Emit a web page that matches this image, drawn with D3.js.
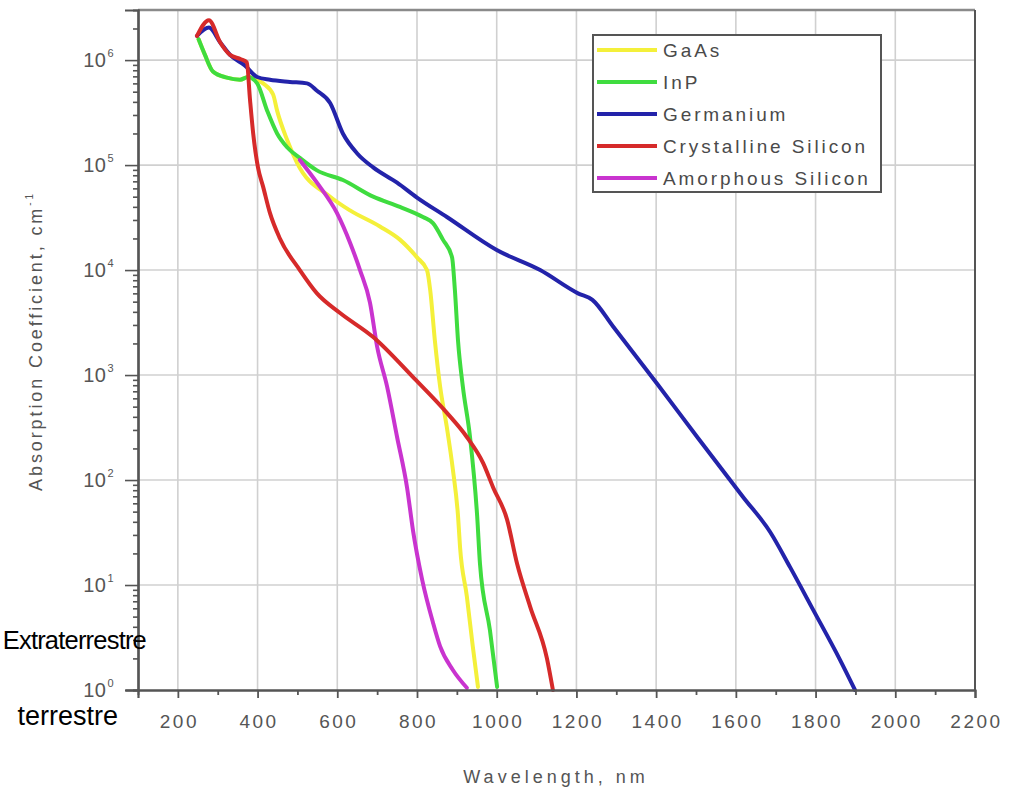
<!DOCTYPE html>
<html>
<head>
<meta charset="utf-8">
<script src="https://cdn.jsdelivr.net/npm/d3@7"></script>
<style>
  html, body { margin: 0; padding: 0; background: #fff; }
  svg { display: block; }
  text { font-family: "Liberation Sans", Arial, sans-serif; }
</style>
</head>
<body>
<svg id="chart" width="1024" height="793"></svg>
<script>
// ---- Data (wavelength in nm, absorption coefficient in cm^-1) ----
const seriesNames = ["GaAs", "InP", "Germanium", "Crystalline Silicon", "Amorphous Silicon"];
const seriesColors = ["#f4f03a", "#3fdc3f", "#2323aa", "#d62a2a", "#c934cf"];

const gaasNm  = [252, 268, 288, 323, 356, 376, 414, 439, 449, 474, 499, 582, 632, 707, 757, 800, 825, 833, 845, 858, 875, 890, 903, 908, 925, 940, 953];
const gaasVal = [1.58e6, 1.12e6, 7.8e5, 6.8e5, 6.5e5, 6.9e5, 6.0e5, 4.7e5, 3.3e5, 1.74e5, 1.05e5, 5.0e4, 3.7e4, 2.6e4, 1.95e4, 1.32e4, 1.0e4, 6.5e3, 2.1e3, 776, 316, 126, 45, 23, 7.8, 2.6, 1.07];

const inpNm  = [252, 268, 288, 323, 356, 376, 399, 424, 449, 474, 506, 549, 614, 690, 757, 815, 840, 865, 888, 895, 903, 915, 933, 951, 958, 983, 1001];
const inpVal = [1.58e6, 1.12e6, 7.8e5, 6.8e5, 6.5e5, 6.9e5, 6.0e5, 3.3e5, 2.0e5, 1.48e5, 1.17e5, 8.9e4, 7.2e4, 5.0e4, 4.0e4, 3.2e4, 2.8e4, 1.95e4, 1.32e4, 6.5e3, 2.1e3, 776, 257, 45, 16, 3.7, 1.07];

const geNm  = [248, 278, 306, 331, 368, 399, 431, 481, 524, 549, 582, 614, 650, 690, 750, 800, 875, 1000, 1109, 1204, 1240, 1292, 1402, 1503, 1618, 1686, 1736, 1794, 1861, 1899];
const geVal = [1.7e6, 2.04e6, 1.48e6, 1.12e6, 8.9e5, 6.9e5, 6.5e5, 6.2e5, 6.0e5, 5.1e5, 3.9e5, 2.0e5, 1.29e5, 9.5e4, 6.8e4, 4.9e4, 3.2e4, 1.55e4, 1.0e4, 6.0e3, 5.2e3, 2.9e3, 832, 257, 69, 32, 14.8, 5.8, 1.95, 1.0];

const csiNm  = [248, 278, 306, 331, 358, 373, 381, 389, 401, 414, 431, 456, 506, 549, 607, 690, 790, 875, 925, 966, 991, 1026, 1051, 1084, 1126, 1141];
const csiVal = [1.7e6, 2.4e6, 1.48e6, 1.12e6, 1.02e6, 9.5e5, 4.2e5, 2.0e5, 9.5e4, 6.2e4, 3.5e4, 2.0e4, 1.0e4, 6.0e3, 3.9e3, 2.3e3, 955, 436, 257, 145, 85, 42, 16, 6.2, 2.0, 1.0];

const asiNm  = [506, 549, 599, 632, 657, 682, 700, 725, 750, 775, 790, 813, 840, 858, 890, 925];
const asiVal = [1.12e5, 6.8e4, 3.5e4, 1.82e4, 1.0e4, 4.9e3, 1.86e3, 776, 257, 85, 33, 11.2, 4.4, 2.6, 1.55, 1.05];

const xMajorTicks = [200, 400, 600, 800, 1000, 1200, 1400, 1600, 1800, 2000, 2200];
const xMinorTicks = [100, 300, 500, 700, 900, 1100, 1300, 1500, 1700, 1900, 2100];
const yDecadeExps = [0, 1, 2, 3, 4, 5, 6];
const yMinorMult  = [2, 3, 4, 5, 6, 7, 8, 9];

const xTitle = "Wavelength, nm";
const yTitle = "Absorption Coefficient, cm";
const overlayTexts = ["Extraterrestre", "terrestre"];

// ---- Layout ----
const L = 138, R = 975, T = 10, B = 690;
const svg = d3.select("#chart");

const x = d3.scaleLinear().domain([100, 2200]).range([L, R]);
const y = d3.scaleLog().domain([1, 3e6]).range([B, T]);

const axisColor = "#555";
const gridColor = "#d0d0d0";
const textColor = "#555";

// Grid
svg.append("g").selectAll("line.vg")
  .data(xMajorTicks.filter(d => d < 2200))
  .join("line")
  .attr("x1", d => x(d)).attr("x2", d => x(d))
  .attr("y1", T).attr("y2", B)
  .attr("stroke", gridColor).attr("stroke-width", 1.6);

svg.append("g").selectAll("line.hg")
  .data(yDecadeExps.filter(e => e > 0))
  .join("line")
  .attr("x1", L).attr("x2", R)
  .attr("y1", e => y(Math.pow(10, e))).attr("y2", e => y(Math.pow(10, e)))
  .attr("stroke", gridColor).attr("stroke-width", 1.6);

// Series
const allSeries = [
  {name: seriesNames[0], color: seriesColors[0], nm: gaasNm, val: gaasVal},
  {name: seriesNames[1], color: seriesColors[1], nm: inpNm, val: inpVal},
  {name: seriesNames[2], color: seriesColors[2], nm: geNm, val: geVal},
  {name: seriesNames[4], color: seriesColors[4], nm: asiNm, val: asiVal},
  {name: seriesNames[3], color: seriesColors[3], nm: csiNm, val: csiVal}
];

const line = d3.line()
  .x(d => x(d[0])).y(d => y(d[1]))
  .curve(d3.curveMonotoneX);

svg.append("g").selectAll("path")
  .data(allSeries)
  .join("path")
  .attr("d", s => line(s.nm.map((n, i) => [n, s.val[i]])))
  .attr("fill", "none")
  .attr("stroke", s => s.color)
  .attr("stroke-width", 4)
  .attr("stroke-linejoin", "round")
  .attr("stroke-linecap", "round");

// Frame
svg.append("line").attr("x1", L).attr("x2", R).attr("y1", T).attr("y2", T)
  .attr("stroke", "#8a8a8a").attr("stroke-width", 2.5);
svg.append("line").attr("x1", R).attr("x2", R).attr("y1", T).attr("y2", B)
  .attr("stroke", axisColor).attr("stroke-width", 2);

// X axis
const xAxisG = svg.append("g").attr("transform", `translate(0,${B})`)
  .call(d3.axisBottom(x).tickValues(xMajorTicks).tickSize(8).tickFormat(""));
const xMinorG = svg.append("g").attr("transform", `translate(0,${B})`)
  .call(d3.axisBottom(x).tickValues(xMinorTicks).tickSize(5).tickFormat(""));
[xAxisG, xMinorG].forEach(g => {
  g.select(".domain").attr("stroke", axisColor).attr("stroke-width", 2.2);
  g.selectAll(".tick line").attr("stroke", axisColor).attr("stroke-width", 1.8);
});
xMinorG.select(".domain").attr("d", `M${L - 12},0.5H${R}`);

svg.append("g").selectAll("text")
  .data(xMajorTicks)
  .join("text")
  .attr("x", d => x(d) + 1.5)
  .attr("y", B + 38)
  .attr("text-anchor", "middle")
  .attr("font-size", 19)
  .attr("letter-spacing", "2.5px")
  .attr("fill", textColor)
  .text(d => d);

// Y axis
const yMinorVals = [];
yDecadeExps.forEach(e => yMinorMult.forEach(m => {
  const v = m * Math.pow(10, e);
  if (v < 3e6) yMinorVals.push(v);
}));
const yAxisG = svg.append("g").attr("transform", `translate(${L},0)`)
  .call(d3.axisLeft(y).tickValues(yDecadeExps.map(e => Math.pow(10, e))).tickSize(13).tickFormat(""));
const yMinorG = svg.append("g").attr("transform", `translate(${L},0)`)
  .call(d3.axisLeft(y).tickValues(yMinorVals).tickSize(5).tickFormat(""));
[yAxisG, yMinorG].forEach(g => {
  g.select(".domain").attr("stroke", axisColor).attr("stroke-width", 2.2);
  g.selectAll(".tick line").attr("stroke", axisColor).attr("stroke-width", 1.6);
});

const yLab = svg.append("g").selectAll("text")
  .data(yDecadeExps)
  .join("text")
  .attr("x", 114)
  .attr("y", e => y(Math.pow(10, e)) + 7)
  .attr("text-anchor", "end")
  .attr("font-size", 20)
  .attr("letter-spacing", "0.5px")
  .attr("fill", textColor);
yLab.append("tspan").text("10");
yLab.append("tspan")
  .attr("font-size", 11)
  .attr("dy", -10)
  .attr("dx", 1)
  .text(e => e);

// Axis titles
svg.append("text")
  .attr("x", 556).attr("y", 783)
  .attr("text-anchor", "middle")
  .attr("font-size", 18)
  .attr("letter-spacing", "4px")
  .attr("fill", textColor)
  .text(xTitle);

const yt = svg.append("text")
  .attr("transform", "translate(42,341) rotate(-90)")
  .attr("text-anchor", "middle")
  .attr("font-size", 18)
  .attr("letter-spacing", "2.9px")
  .attr("fill", textColor);
yt.append("tspan").text(yTitle);
yt.append("tspan").attr("font-size", 10).attr("dy", -9).text("-1");

// Legend
const legend = svg.append("g");
legend.append("rect")
  .attr("x", 593).attr("y", 35).attr("width", 288).attr("height", 157)
  .attr("fill", "#fff").attr("stroke", "#555").attr("stroke-width", 2);
const rowY = d3.scalePoint().domain(seriesNames).range([50, 178]);
const items = legend.selectAll("g.item")
  .data(seriesNames.map((n, i) => ({name: n, color: seriesColors[i]})))
  .join("g");
items.append("line")
  .attr("x1", 597).attr("x2", 657)
  .attr("y1", d => rowY(d.name)).attr("y2", d => rowY(d.name))
  .attr("stroke", d => d.color).attr("stroke-width", 4);
items.append("text")
  .attr("x", 663)
  .attr("y", d => rowY(d.name) + 7)
  .attr("font-size", 19)
  .attr("letter-spacing", "2.9px")
  .attr("fill", "#4a4a4a")
  .text(d => d.name);

// Overlay texts
svg.append("text")
  .attr("x", 146).attr("y", 649)
  .attr("text-anchor", "end")
  .attr("font-size", 25.5)
  .attr("letter-spacing", "-0.8px")
  .attr("fill", "#000")
  .text(overlayTexts[0]);
svg.append("text")
  .attr("x", 118).attr("y", 725)
  .attr("text-anchor", "end")
  .attr("font-size", 27)
  .attr("fill", "#000")
  .text(overlayTexts[1]);
</script>
</body>
</html>
